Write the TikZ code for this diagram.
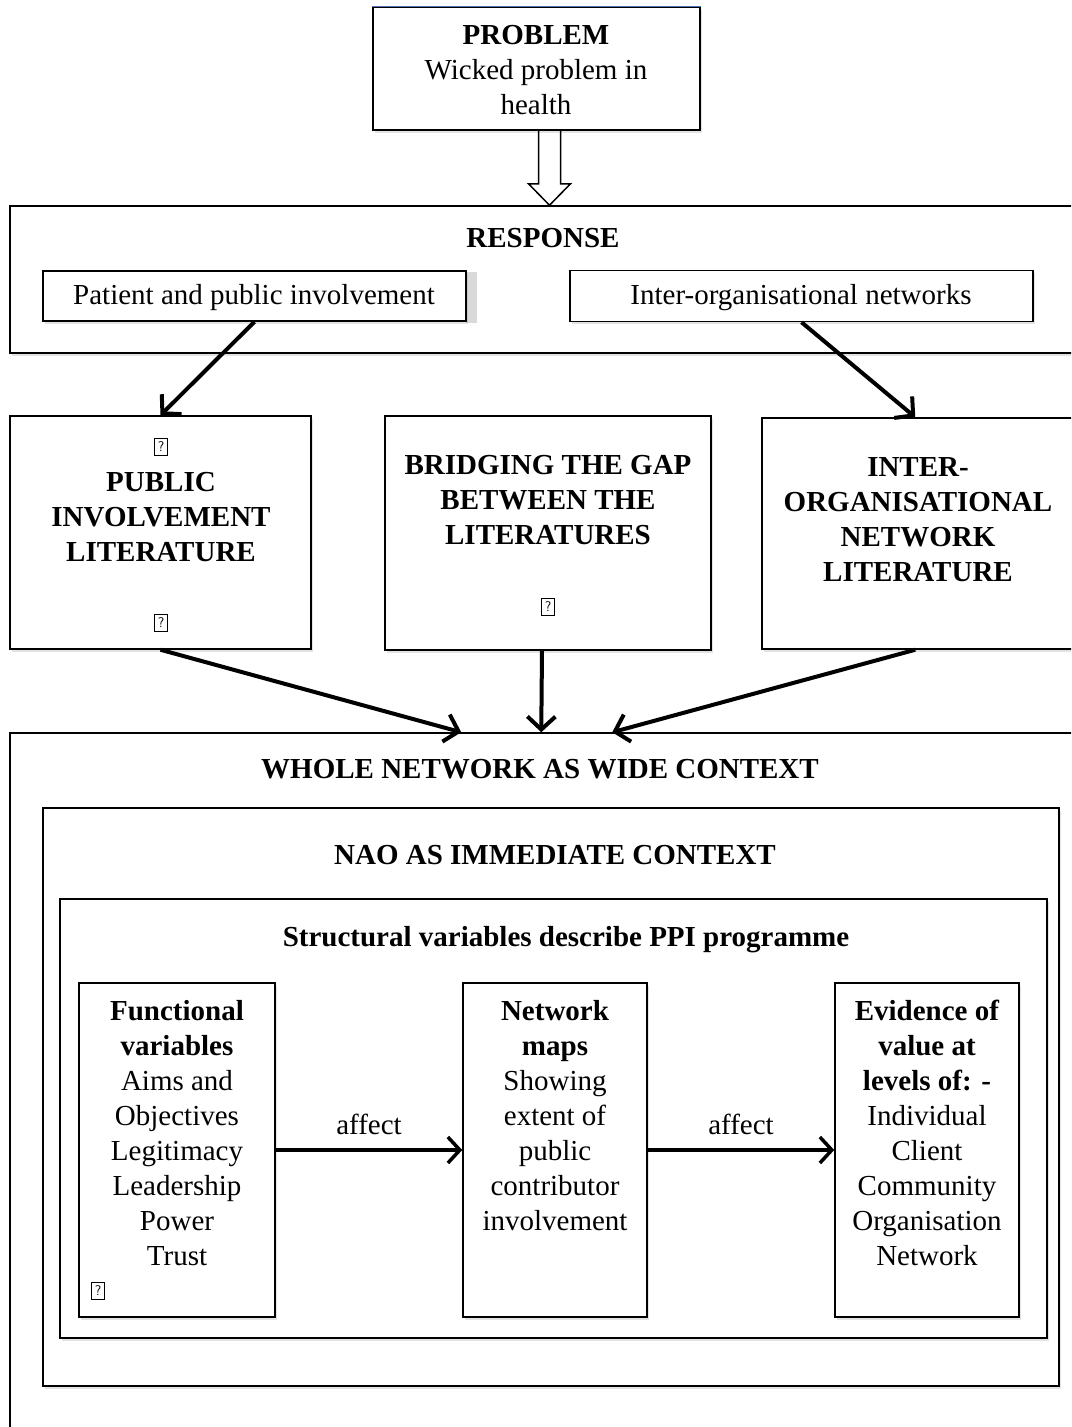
\documentclass[tikz,border=0pt]{standalone}
\usepackage{fontspec}
\setmainfont{Liberation Serif}
\usetikzlibrary{arrows.meta,shadows,calc}
\begin{document}
\begin{tikzpicture}[x=1pt,y=-1pt,
  box/.style={draw=black, line width=1.5pt, fill=white, inner sep=0pt,
    drop shadow={shadow xshift=1.5pt, shadow yshift=-2.5pt, opacity=0.22}},
  txt/.style={align=center, inner sep=0pt, font=\fontsize{29}{35}\selectfont},
  btxt/.style={align=center, inner sep=0pt, font=\fontsize{29}{35}\selectfont\bfseries},
  flow/.style={line width=4pt, -{Straight Barb[length=13pt,width=28pt]}},
  aff/.style={line width=3.5pt, -{Straight Barb[length=12pt,width=26pt]}},
  hollow/.style={line width=1.5pt},
  qmark/.style={draw, line width=0.7pt, inner sep=0.5pt, font=\fontsize{14}{14}\selectfont\sffamily,
    minimum width=13pt, minimum height=17pt}
]
\useasboundingbox (0,0) rectangle (1071,1427);
\fill[white] (0,0) rectangle (1071,1427);
\clip (0,0) rectangle (1071,1427);

% --- problem ---
\node[box, minimum width=327, minimum height=123] (problem) at (536.5,68.5) {};
\draw[line width=1.5pt, color={rgb,255:red,80;green,115;blue,185}]
  (problem.north west) -- (problem.north east);
\node[txt] at (536,70) {\textbf{PROBLEM}\\Wicked problem in\\health};

% --- response ---
\node[box, minimum width=1080, minimum height=147] (response) at (550,279.5) {};
\node[btxt] at (543,238) {RESPONSE};
\fill[gray!30] (466,272) rectangle (477,323);
\node[box, minimum width=423, minimum height=50] (ppi) at (254.5,296) {};
\node[txt] at (254,298) {Patient and public involvement};
\node[box, minimum width=463, minimum height=51] (ion) at (801.5,296) {};
\node[txt] at (801,298) {Inter-organisational networks};

% hollow arrow from problem to response
\coordinate (harrow) at ($(problem.south)+(13,0)$);
\draw[hollow] ($(harrow)+(-11,0)$) -- ($(harrow)+(-11,53)$) -- ($(harrow)+(-21,53)$)
  -- (harrow |- response.north) -- ($(harrow)+(21,53)$) -- ($(harrow)+(11,53)$)
  -- ($(harrow)+(11,0)$);

% --- literature boxes ---
\node[box, minimum width=301, minimum height=233] (litL) at (160.5,532.5) {};
\node[box, minimum width=326, minimum height=234] (litM) at (548,533) {};
\node[box, minimum width=328, minimum height=231] (litR) at (926,533.5) {};

\node[qmark] at (161,447) {?};
\node[btxt] at (161,517) {PUBLIC\\INVOLVEMENT\\LITERATURE};
\node[qmark] at (161,623) {?};
\node[btxt] at (548,500) {BRIDGING THE GAP\\BETWEEN THE\\LITERATURES};
\node[qmark] at (548,607) {?};
\node[btxt] at (918,520) {INTER-\\ORGANISATIONAL\\NETWORK\\LITERATURE};

\coordinate (litRtop) at ($(litR.north west)+(154,0)$);
\coordinate (litRbot) at (litRtop |- litR.south);
\draw[flow] (ppi.south) -- (litL.north);
\draw[flow] (ion.south) -- (litRtop);

% --- context boxes ---
\node[box, minimum width=1080, minimum height=720] (outer) at (550,1093) {};
\node[btxt] at (540,769) {WHOLE NETWORK AS WIDE CONTEXT};

\draw[flow] (litL.south) -- ($(outer.north west)+(452,0)$);
\draw[flow] ($(litM.south)+(-6,0)$) -- ($(outer.north west)+(532,0)$);
\draw[flow] (litRbot) -- ($(outer.north west)+(603,0)$);

\node[box, minimum width=1016, minimum height=578] (nao) at (551,1097) {};
\node[btxt] at (555,855) {NAO AS IMMEDIATE CONTEXT};

\node[box, minimum width=987, minimum height=439] (struct) at (553.5,1118.5) {};
\node[btxt] at (566,940) {Structural variables describe PPI programme};

\node[box, minimum width=196, minimum height=334] (func) at (177,1150) {};
\node[box, minimum width=184, minimum height=334] (netw) at (555,1150) {};
\node[box, minimum width=184, minimum height=334] (evid) at (927,1150) {};

\node[txt] at (177,1133) {\textbf{Functional}\\\textbf{variables}\\Aims and\\Objectives\\Legitimacy\\Leadership\\Power\\Trust};
\node[qmark] at (98,1291) {?};
\node[txt] at (555,1116) {\textbf{Network}\\\textbf{maps}\\Showing\\extent of\\public\\contributor\\involvement};
\node[txt] at (927,1133) {\textbf{Evidence of}\\\textbf{value at}\\\textbf{levels of: -}\\Individual\\Client\\Community\\Organisation\\Network};

\draw[aff] (func.east) -- (netw.west) node[midway, above=13pt, txt] {affect};
\draw[aff] (netw.east) -- (evid.west) node[midway, above=13pt, txt] {affect};
\end{tikzpicture}
\end{document}
